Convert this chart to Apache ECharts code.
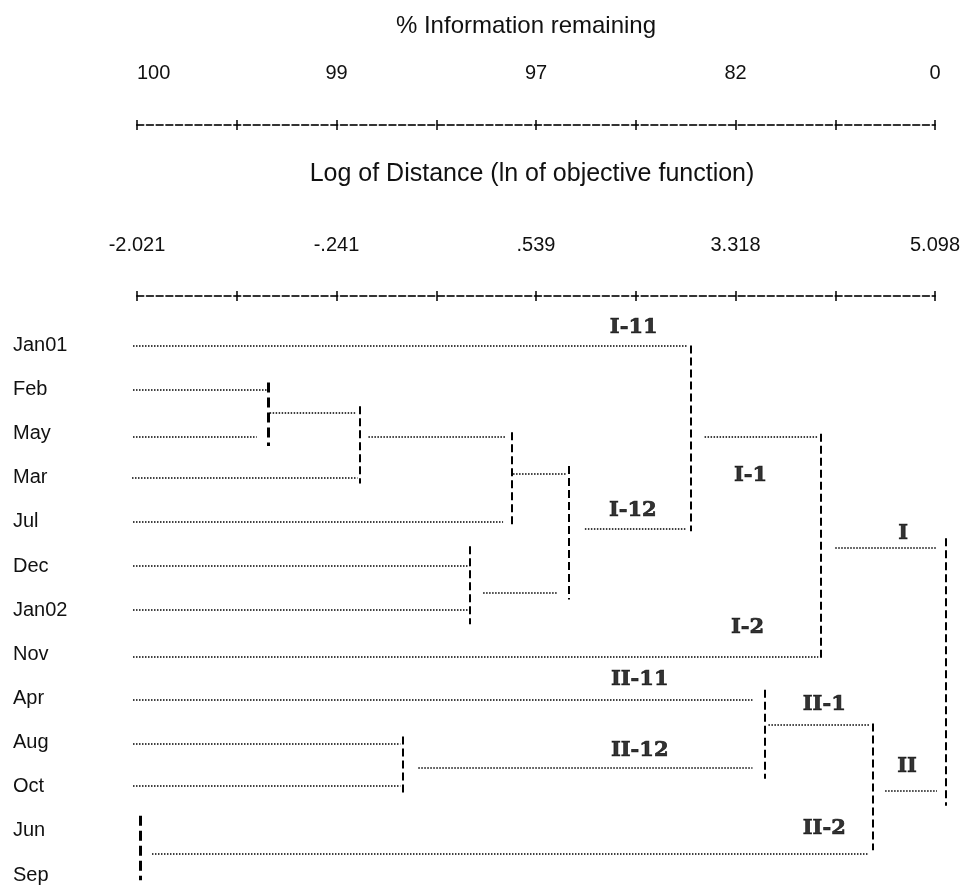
<!DOCTYPE html>
<html>
<head>
<meta charset="utf-8">
<script src="https://cdn.jsdelivr.net/npm/echarts@6/dist/echarts.min.js"></script>
<style>
  html, body { margin: 0; padding: 0; background: #fff; }
  #chart { width: 967px; height: 885px; }
</style>
</head>
<body>
<div id="chart"></div>
<script>
// Leaves of the dendrogram, top to bottom
const leaves = ['Jan01', 'Feb', 'May', 'Mar', 'Jul', 'Dec', 'Jan02', 'Nov', 'Apr', 'Aug', 'Oct', 'Jun', 'Sep'];

// Scale labels, one per second ruler mark
const infoTicks = ['100', '99', '97', '82', '0'];
const distTicks = ['-2.021', '-.241', '.539', '3.318', '5.098'];

// Horizontal branches: [leaf position, from scale unit, to scale unit]
const branches = [
  [0.00, -0.04, 5.51],
  [1.00, -0.04, 1.30],
  [2.06, -0.04, 1.20],
  [1.52, 1.33, 2.19],
  [3.00, -0.05, 2.21],
  [2.06, 2.32, 3.69],
  [3.99, -0.04, 3.67],
  [2.91, 3.77, 4.30],
  [5.00, -0.04, 3.33],
  [5.99, -0.04, 3.33],
  [5.61, 3.47, 4.22],
  [4.15, 4.49, 5.51],
  [2.06, 5.69, 6.83],
  [7.06, -0.04, 6.83],
  [4.59, 7.00, 8.02],
  [8.03, -0.04, 6.17],
  [9.02, -0.04, 2.64],
  [9.98, -0.04, 2.64],
  [9.58, 2.82, 6.17],
  [8.59, 6.33, 7.35],
  [11.51, 0.15, 7.33],
  [10.08, 7.50, 8.02]
];

// Vertical joins: [scale unit, from leaf position, to leaf position]
const joins = [
  [2.23, 1.38, 3.13],
  [3.76, 1.97, 4.08],
  [3.34, 4.55, 6.32],
  [4.33, 2.73, 5.76],
  [5.55, 0.00, 4.21],
  [6.85, 2.00, 7.11],
  [8.11, 4.37, 10.43],
  [6.29, 7.80, 9.82],
  [7.38, 8.57, 11.44],
  [2.66, 8.86, 10.16]
];
// First-level joins drawn with a heavier pen
const joinsHeavy = [
  [1.32, 0.84, 2.28],
  [0.03, 10.66, 12.12]
];

// Group names: [name, scale unit, leaf position]
const groups = [
  ['I-11', 4.98, -0.41],
  ['I-1', 6.15, 2.95],
  ['I-12', 4.97, 3.74],
  ['I', 7.68, 4.26],
  ['I-2', 6.12, 6.39],
  ['II-11', 5.04, 7.56],
  ['II-1', 6.89, 8.14],
  ['II-12', 5.04, 9.18],
  ['II', 7.72, 9.54],
  ['II-2', 6.89, 10.95]
];

const FONT = '"Liberation Sans", Arial, sans-serif';
const INK = '#111';

function rulerAxes(offset, labels, name, opts) {
  const base = {
    type: 'value', gridIndex: 0, position: 'top', offset: offset,
    min: 0, max: 8, interval: 1, splitLine: { show: false }
  };
  const tickStyle = { color: '#000', width: 1.5 };
  return [
    Object.assign({}, base, {
      name: name,
      nameLocation: 'middle',
      nameGap: opts.nameGap,
      nameTextStyle: {
        fontSize: opts.nameSize, color: INK, fontFamily: FONT,
        padding: [0, opts.nameShift, 0, 0]
      },
      axisLine: { show: true, lineStyle: { color: '#333', width: 2, type: [6.5, 3.2] } },
      axisTick: { show: true, length: 5, lineStyle: tickStyle },
      axisLabel: {
        show: true, margin: opts.labelMargin, fontSize: 20, color: INK, fontFamily: FONT,
        alignMinLabel: opts.alignMin,
        formatter: v => (v % 2 === 0 ? labels[v / 2] : '')
      }
    }),
    Object.assign({}, base, {
      axisLine: { show: false },
      axisTick: { show: true, inside: true, length: 5, lineStyle: tickStyle },
      axisLabel: { show: false }
    })
  ];
}

const chart = echarts.init(document.getElementById('chart'), null, { renderer: 'canvas' });

const gridTop = 345.4;
const rowH = 44.53;

chart.setOption({
  animation: false,
  backgroundColor: '#fff',
  grid: { left: 137, width: 798, top: gridTop, height: rowH * 12 },
  xAxis: [
    { type: 'value', gridIndex: 0, min: 0, max: 8, interval: 1, show: false }
  ]
    .concat(rulerAxes(gridTop - 296, distTicks, 'Log of Distance (ln of objective function)',
      { labelMargin: 41, nameGap: 109, nameSize: 25, nameShift: 8, alignMin: null }))
    .concat(rulerAxes(gridTop - 125, infoTicks, '% Information remaining',
      { labelMargin: 42, nameGap: 87, nameSize: 24, nameShift: 20, alignMin: 'left' })),
  yAxis: {
    type: 'value', min: 0, max: 12, interval: 1, inverse: true,
    axisLine: { show: false }, axisTick: { show: false }, splitLine: { show: false },
    axisLabel: {
      show: true, align: 'left', margin: 124, fontSize: 20, color: INK, fontFamily: FONT,
      formatter: v => leaves[v] || ''
    }
  },
  series: [
    {
      type: 'lines', coordinateSystem: 'cartesian2d', xAxisIndex: 0, yAxisIndex: 0,
      clip: false, silent: true,
      lineStyle: { color: '#000', width: 1.5, type: [1.5, 1.5], opacity: 1 },
      data: branches.map(b => ({ coords: [[b[1], b[0]], [b[2], b[0]]] }))
    },
    {
      type: 'lines', coordinateSystem: 'cartesian2d', xAxisIndex: 0, yAxisIndex: 0,
      clip: false, silent: true,
      lineStyle: { color: '#000', width: 2, type: [8, 4], opacity: 1 },
      data: joins.map(j => ({ coords: [[j[0], j[1]], [j[0], j[2]]] }))
    },
    {
      type: 'lines', coordinateSystem: 'cartesian2d', xAxisIndex: 0, yAxisIndex: 0,
      clip: false, silent: true,
      lineStyle: { color: '#000', width: 3, type: [10, 5], opacity: 1 },
      data: joinsHeavy.map(j => ({ coords: [[j[0], j[1]], [j[0], j[2]]] }))
    },
    {
      type: 'scatter', xAxisIndex: 0, yAxisIndex: 0, clip: false, silent: true,
      symbol: 'circle', symbolSize: 1, itemStyle: { color: 'rgba(255,255,255,0)' },
      label: {
        show: true, position: 'inside', color: '#000',
        textBorderColor: '#000', textBorderWidth: 0.7,
        fontFamily: '"DejaVu Serif", serif', fontWeight: 'bold', fontSize: 21,
        formatter: p => p.data[2]
      },
      data: groups.map(g => [g[1], g[2], g[0]])
    }
  ]
});
</script>
</body>
</html>
